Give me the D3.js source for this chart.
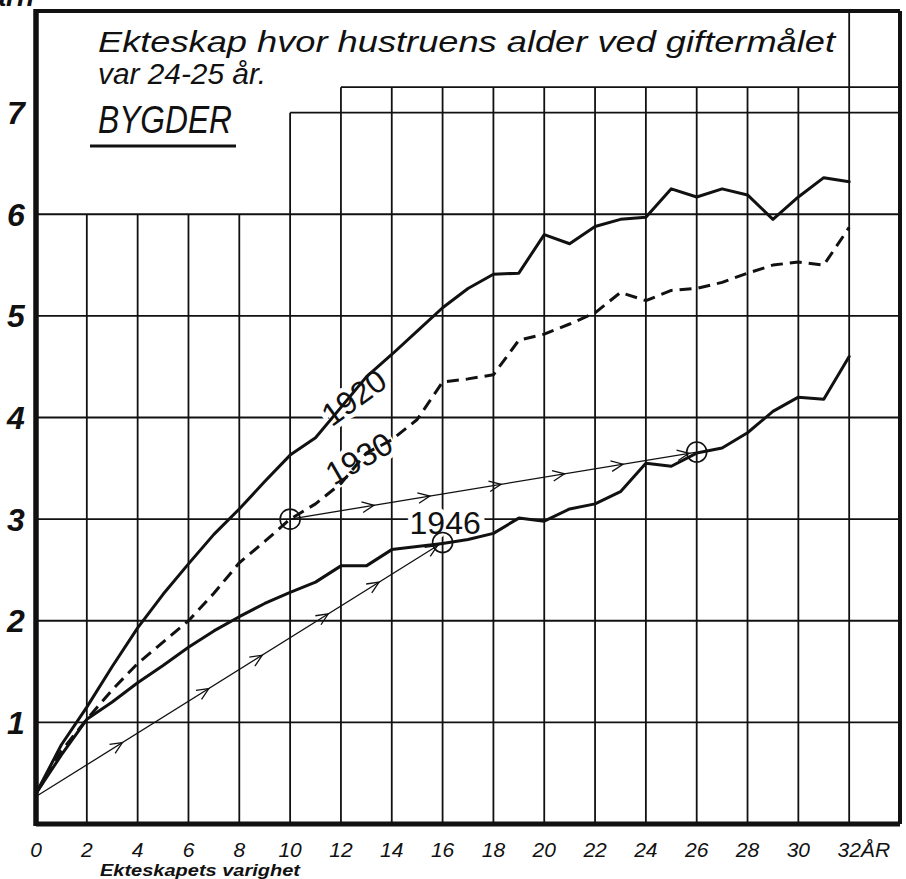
<!DOCTYPE html>
<html>
<head>
<meta charset="utf-8">
<script src="https://cdn.jsdelivr.net/npm/d3@7"></script>
<style>
  body { margin: 0; background: #fff; }
  svg { display: block; }
  .grid line { stroke: #111; stroke-width: 1.8; }
  .frame { fill: none; stroke: #111; }
  .curve { fill: none; stroke: #111; stroke-width: 3; stroke-linejoin: round; stroke-linecap: round; }
  .arrow { fill: none; stroke: #111; stroke-width: 1.3; }
  .hand { font-family: "Liberation Sans", "DejaVu Sans", sans-serif; font-style: italic; fill: #111; }
  .upright { font-style: normal; }
</style>
</head>
<body>
<svg width="906" height="879"></svg>
<script>
// years of marriage duration
var years = d3.range(0, 33);

// average number of children
var v1920 = [0.3, 0.78, 1.15, 1.55, 1.93, 2.26, 2.56, 2.85, 3.1, 3.37, 3.63, 3.8, 4.1, 4.4, 4.62, 4.85,
             5.08, 5.27, 5.41, 5.42, 5.8, 5.71, 5.88, 5.95, 5.97, 6.25, 6.17, 6.25, 6.19, 5.95, 6.17, 6.36, 6.32];
var v1930 = [0.3, 0.72, 1.03, 1.32, 1.58, 1.79, 2.0, 2.27, 2.57, 2.78, 3.0, 3.15, 3.35, 3.65, 3.78, 3.98,
             4.35, 4.38, 4.42, 4.76, 4.82, 4.92, 5.03, 5.23, 5.15, 5.25, 5.27, 5.33, 5.42, 5.5, 5.53, 5.5, 5.87];
var v1946 = [0.3, 0.68, 1.03, 1.2, 1.39, 1.56, 1.74, 1.9, 2.04, 2.17, 2.28, 2.38, 2.54, 2.54, 2.7, 2.73,
             2.76, 2.8, 2.86, 3.01, 2.98, 3.1, 3.15, 3.27, 3.55, 3.52, 3.65, 3.7, 3.85, 4.06, 4.2, 4.18, 4.6];

var xTicks = d3.range(0, 33, 2);
var yTicks = [1, 2, 3, 4, 5, 6, 7];

// marked points and the cohort arrows between them
var circles = [[10, 3.0], [16, 2.77], [26, 3.66]];
var arrows = [
  { from: [0, 0.27], to: [16, 2.77], heads: [3.4, 6.8, 8.9, 11.5, 13.5, 15.8] },
  { from: [10, 3.0], to: [26, 3.66], heads: [13.3, 15.5, 18.3, 20.8, 23.1, 25.7] }
];

var svg = d3.select("svg");

var x = d3.scaleLinear().domain([0, 34]).range([36, 900]);
var y = d3.scaleLinear().domain([0, 8]).range([824, 11]);

// stepped grid, leaving room for the title
var hLines = [[1, 0], [2, 0], [3, 0], [4, 0], [5, 0], [6, 0], [7, 10], [7.25, 12]];
var vLines = xTicks.slice(1).map(function(t) {
  var top = t <= 8 ? 6 : t === 10 ? 7 : t === 32 ? 8 : 7.25;
  return [t, top];
});

var grid = svg.append("g").attr("class", "grid");
grid.selectAll(".h").data(hLines).enter().append("line")
  .attr("x1", function(d) { return x(d[1]); })
  .attr("x2", x(34))
  .attr("y1", function(d) { return y(d[0]); })
  .attr("y2", function(d) { return y(d[0]); });
grid.selectAll(".v").data(vLines).enter().append("line")
  .attr("x1", function(d) { return x(d[0]); })
  .attr("x2", function(d) { return x(d[0]); })
  .attr("y1", y(0))
  .attr("y2", function(d) { return y(d[1]); });

// frame
svg.append("line").attr("class", "frame").attr("stroke-width", 4)
  .attr("x1", x(0)).attr("x2", x(34)).attr("y1", y(8)).attr("y2", y(8));
svg.append("line").attr("class", "frame").attr("stroke-width", 4)
  .attr("x1", x(34)).attr("x2", x(34)).attr("y1", y(8)).attr("y2", y(0));
svg.append("line").attr("class", "frame").attr("stroke-width", 5.5)
  .attr("x1", x(0)).attr("x2", x(0)).attr("y1", y(8) - 2).attr("y2", y(0) + 2);
svg.append("line").attr("class", "frame").attr("stroke-width", 5)
  .attr("x1", x(0)).attr("x2", x(34)).attr("y1", y(0)).attr("y2", y(0));

// title
svg.append("text").attr("class", "hand")
  .attr("x", 98).attr("y", 52).attr("font-size", 29)
  .attr("textLength", 737).attr("lengthAdjust", "spacingAndGlyphs")
  .text("Ekteskap hvor hustruens alder ved giftermålet");
svg.append("text").attr("class", "hand")
  .attr("x", 98).attr("y", 84).attr("font-size", 29)
  .attr("textLength", 168).attr("lengthAdjust", "spacingAndGlyphs")
  .text("var 24-25 år.");
svg.append("text").attr("class", "hand")
  .attr("x", 98).attr("y", 133).attr("font-size", 38)
  .attr("textLength", 134).attr("lengthAdjust", "spacingAndGlyphs")
  .text("BYGDER");
svg.append("line").attr("stroke", "#111").attr("stroke-width", 3)
  .attr("x1", 90).attr("x2", 236).attr("y1", 146).attr("y2", 146);

// y axis unit, cut off at the top edge
svg.append("text").attr("class", "hand")
  .attr("x", 34).attr("y", 6).attr("text-anchor", "end")
  .attr("font-size", 28).attr("font-weight", "bold")
  .text("Barn");

// tick labels
svg.selectAll(".ylab").data(yTicks).enter().append("text")
  .attr("class", "hand")
  .attr("x", 16).attr("y", function(d) { return y(d); })
  .attr("dy", "0.36em")
  .attr("text-anchor", "middle")
  .attr("font-size", 32).attr("font-weight", "bold")
  .text(function(d) { return d; });

svg.selectAll(".xlab").data(xTicks).enter().append("text")
  .attr("class", "hand")
  .attr("x", function(d) { return x(d); }).attr("y", 857)
  .attr("text-anchor", "middle")
  .attr("font-size", 21)
  .text(function(d) { return d; });
svg.append("text").attr("class", "hand")
  .attr("x", 861).attr("y", 857).attr("font-size", 21)
  .text("ÅR");

svg.append("text").attr("class", "hand")
  .attr("x", 100).attr("y", 876).attr("font-size", 17).attr("font-weight", "bold")
  .attr("textLength", 200).attr("lengthAdjust", "spacingAndGlyphs")
  .text("Ekteskapets varighet");

// curve labels with white halo that breaks the grid behind them
var labels = [
  { text: "1920", at: [12.5, 4.2], rot: -36 },
  { text: "1930", at: [12.7, 3.6], rot: -30 },
  { text: "1946", at: [16.1, 2.97], rot: 0 }
];
svg.selectAll(".clab").data(labels).enter().append("text")
  .attr("class", "hand upright")
  .attr("font-size", 32)
  .attr("text-anchor", "middle")
  .attr("dy", "0.36em")
  .attr("stroke", "#fff").attr("stroke-width", 9).attr("paint-order", "stroke")
  .attr("transform", function(d) {
    return "translate(" + x(d.at[0]) + "," + y(d.at[1]) + ") rotate(" + d.rot + ")";
  })
  .text(function(d) { return d.text; });

// curves
var line = d3.line()
  .x(function(d, i) { return x(years[i]); })
  .y(function(d) { return y(d); });

svg.append("path").attr("class", "curve").attr("d", line(v1920));
svg.append("path").attr("class", "curve").attr("d", line(v1946));
svg.append("path").attr("class", "curve")
  .attr("stroke-width", 3.6)
  .attr("stroke-dasharray", "12,7")
  .style("stroke-linecap", "butt")
  .attr("d", line(v1930));

// cohort arrows
arrows.forEach(function(a) {
  var x0 = x(a.from[0]), y0 = y(a.from[1]), x1 = x(a.to[0]), y1 = y(a.to[1]);
  svg.append("line").attr("class", "arrow")
    .attr("x1", x0).attr("y1", y0).attr("x2", x1).attr("y2", y1);
  var ang = Math.atan2(y1 - y0, x1 - x0);
  a.heads.forEach(function(t) {
    var f = (t - a.from[0]) / (a.to[0] - a.from[0]);
    var px = x0 + f * (x1 - x0), py = y0 + f * (y1 - y0);
    var L = 13, s = 0.42;
    var p = "M" + (px - L * Math.cos(ang - s)) + "," + (py - L * Math.sin(ang - s)) +
            "L" + px + "," + py +
            "L" + (px - L * Math.cos(ang + s)) + "," + (py - L * Math.sin(ang + s));
    svg.append("path").attr("class", "arrow").attr("d", p);
  });
});

svg.selectAll(".mark").data(circles).enter().append("circle")
  .attr("cx", function(d) { return x(d[0]); })
  .attr("cy", function(d) { return y(d[1]); })
  .attr("r", 10)
  .attr("fill", "none").attr("stroke", "#111").attr("stroke-width", 1.6);
</script>
</body>
</html>
